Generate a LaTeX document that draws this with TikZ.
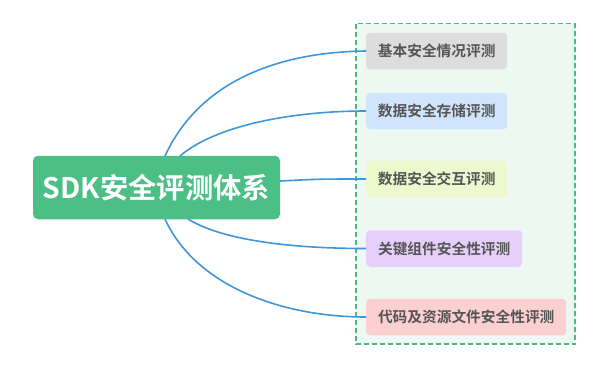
\documentclass[tikz,border=0pt]{standalone}
\usepackage{fontspec}
\newfontfamily\cjkb{Noto Sans CJK SC Bold}
\definecolor{rootgreen}{HTML}{4CBF86}
\definecolor{dashgreen}{HTML}{4CB982}
\definecolor{panel}{HTML}{EEF8F2}
\definecolor{linkblue}{HTML}{3F96DA}
\definecolor{txtgray}{HTML}{555555}
\definecolor{cA}{HTML}{DDDDDD}
\definecolor{cB}{HTML}{CFE5FB}
\definecolor{cC}{HTML}{ECF9CF}
\definecolor{cD}{HTML}{E6CFFB}
\definecolor{cE}{HTML}{FBD0D0}
\begin{document}
\begin{tikzpicture}[x=1pt,y=-1pt,
  rootbox/.style={fill=rootgreen,rounded corners=5pt,text=white,font=\cjkb\fontsize{28.3}{32}\selectfont,
    minimum width=247pt,minimum height=63.5pt,inner sep=0pt},
  leaf/.style={rounded corners=4pt,text=txtgray,font=\cjkb\fontsize{14.7}{17}\selectfont,
    minimum height=36.5pt,inner sep=0pt,anchor=west},
  link/.style={draw=linkblue,line width=1.6pt}]
\useasboundingbox (0,0) rectangle (600,368);
% panel
\draw[draw=dashgreen,fill=panel,line width=1.4pt,dash pattern=on 5pt off 3pt] (356,23.5) rectangle (575,344);
% root
\node[rootbox] (root) at (156.5,187.5) {SDK安全评测体系};
% leaves
\node[leaf,fill=cA,minimum width=141pt] (l1) at (366,51) {基本安全情况评测};
\node[leaf,fill=cB,minimum width=141pt] (l2) at (366,111) {数据安全存储评测};
\node[leaf,fill=cC,minimum width=141pt] (l3) at (366,179) {数据安全交互评测};
\node[leaf,fill=cD,minimum width=156pt] (l4) at (366,248.5) {关键组件安全性评测};
\node[leaf,fill=cE,minimum width=200pt] (l5) at (366,317) {代码及资源文件安全性评测};
% coordinates for link starts
\coordinate (s1) at (165,156);
\coordinate (s2) at (180,156);
\coordinate (s3) at (280,181);
\coordinate (s4) at (188,219);
\coordinate (s5) at (165,219);
\draw[link] (s1) .. controls (200,80) and (280,52) .. (l1.west);
\draw[link] (s2) .. controls (215,126) and (290,111) .. (l2.west);
\draw[link] (s3) .. controls (320,179) .. (l3.west);
\draw[link] (s4) .. controls (225,242) and (300,248.5) .. (l4.west);
\draw[link] (s5) .. controls (195,285) and (280,317) .. (l5.west);
\end{tikzpicture}
\end{document}
